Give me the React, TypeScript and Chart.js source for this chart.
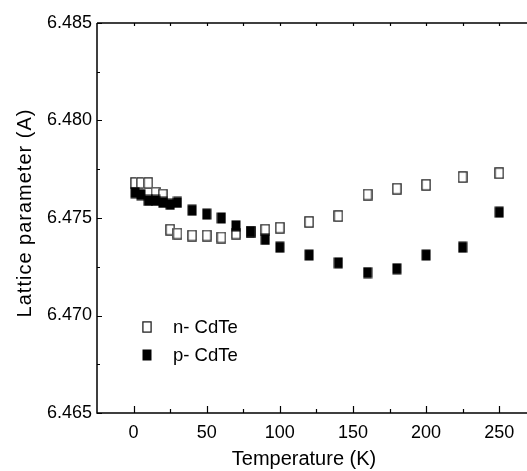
import React, { useEffect, useRef } from "react";
import { Chart, registerables } from "chart.js";

Chart.register(...registerables);

// ---- data ----
const tempN = [1, 5, 10, 15, 20, 25, 30, 40, 50, 60, 70, 80, 90, 100, 120, 140, 160, 180, 200, 225, 250];
const latticeN = [6.4768, 6.4768, 6.4768, 6.4763, 6.4762, 6.4744, 6.4742, 6.4741, 6.4741, 6.474, 6.4742, 6.4743, 6.4744, 6.4745, 6.4748, 6.4751, 6.4762, 6.4765, 6.4767, 6.4771, 6.4773];
const tempP = [1, 5, 10, 15, 20, 25, 30, 40, 50, 60, 70, 80, 90, 100, 120, 140, 160, 180, 200, 225, 250];
const latticeP = [6.4763, 6.4762, 6.4759, 6.4759, 6.4758, 6.4757, 6.4758, 6.4754, 6.4752, 6.475, 6.4746, 6.4743, 6.4739, 6.4735, 6.4731, 6.4727, 6.4722, 6.4724, 6.4731, 6.4735, 6.4753];

const seriesLabels = ["n- CdTe", "p- CdTe"];
const xTitle = "Temperature (K)";
const yTitle = "Lattice parameter (A)";

const xMajorTicks = [0, 50, 100, 150, 200, 250];
const xMinorTicks = [25, 75, 125, 175, 225];
const yMajorTicks = [6.465, 6.47, 6.475, 6.48, 6.485];
const yMinorTicks = [6.4675, 6.4725, 6.4775, 6.4825];

const FONT = '"Liberation Sans", Arial, Helvetica, sans-serif';

function makeMarker(filled: boolean): HTMLCanvasElement {
  const c = document.createElement("canvas");
  c.width = 10;
  c.height = 12;
  const g = c.getContext("2d")!;
  if (filled) {
    g.fillStyle = "#000";
    g.fillRect(0.5, 0.5, 9, 11);
  } else {
    g.fillStyle = "#fff";
    g.fillRect(0, 0, 10, 12);
    g.strokeStyle = "#222";
    g.lineWidth = 1.3;
    g.strokeRect(0.9, 0.9, 8.2, 10.2);
  }
  return c;
}

const framePlugin = {
  id: "frame",
  afterDatasetsDraw(chart: any) {
    const { ctx, chartArea } = chart;
    const { left, right, top, bottom } = chartArea;
    const xs = chart.scales.x;
    const ys = chart.scales.y;
    ctx.save();
    ctx.strokeStyle = "#000";
    ctx.lineWidth = 1.5;
    ctx.beginPath();
    ctx.moveTo(left, top);
    ctx.lineTo(right, top);
    ctx.moveTo(left, top);
    ctx.lineTo(left, bottom);
    ctx.lineTo(right, bottom);
    ctx.stroke();

    ctx.lineWidth = 1.2;
    ctx.beginPath();
    for (const v of xMajorTicks) {
      const px = Math.round(xs.getPixelForValue(v)) + 0.5;
      ctx.moveTo(px, bottom);
      ctx.lineTo(px, bottom - 7);
      ctx.moveTo(px, top);
      ctx.lineTo(px, top + 3);
    }
    for (const v of xMinorTicks) {
      const px = Math.round(xs.getPixelForValue(v)) + 0.5;
      ctx.moveTo(px, bottom);
      ctx.lineTo(px, bottom - 4);
      ctx.moveTo(px, top);
      ctx.lineTo(px, top + 3);
    }
    for (const v of yMajorTicks) {
      const py = Math.round(ys.getPixelForValue(v)) + 0.5;
      ctx.moveTo(left, py);
      ctx.lineTo(left + 5, py);
    }
    for (const v of yMinorTicks) {
      const py = Math.round(ys.getPixelForValue(v)) + 0.5;
      ctx.moveTo(left, py);
      ctx.lineTo(left + 3, py);
    }
    ctx.stroke();

    // axis titles
    ctx.fillStyle = "#000";
    ctx.font = `20px ${FONT}`;
    ctx.textAlign = "center";
    ctx.textBaseline = "alphabetic";
    ctx.fillText(xTitle, 304, 465);

    ctx.save();
    ctx.translate(25, 213);
    ctx.rotate(-Math.PI / 2);
    (ctx as any).letterSpacing = "1px";
    ctx.textBaseline = "middle";
    ctx.fillText(yTitle, 0, 0);
    ctx.restore();

    // legend
    const ds = chart.data.datasets;
    const legendY = [327, 355];
    ctx.font = `18.5px ${FONT}`;
    ctx.textAlign = "left";
    ctx.textBaseline = "middle";
    for (let i = 0; i < ds.length; i++) {
      const img = ds[i].pointStyle as HTMLCanvasElement;
      ctx.drawImage(img, 147 - img.width / 2, legendY[i] - img.height / 2);
      ctx.fillText(ds[i].label, 173, legendY[i] + 1);
    }
    ctx.restore();
  },
};

export default function App() {
  const ref = useRef<HTMLCanvasElement>(null);
  useEffect(() => {
    document.body.style.margin = "0";
    const canvas = ref.current!;
    const openMarker = makeMarker(false);
    const fillMarker = makeMarker(true);
    const chart = new Chart(canvas, {
      type: "scatter",
      data: {
        datasets: [
          {
            label: seriesLabels[0],
            data: tempN.map((t, i) => ({ x: t, y: latticeN[i] })),
            pointStyle: openMarker as any,
            showLine: false,
            order: 1,
          },
          {
            label: seriesLabels[1],
            data: tempP.map((t, i) => ({ x: t, y: latticeP[i] })),
            pointStyle: fillMarker as any,
            showLine: false,
            order: 0,
          },
        ],
      },
      options: {
        responsive: false,
        animation: false,
        layout: { autoPadding: false, padding: { top: 23, right: 0, left: 0, bottom: 0 } },
        plugins: { legend: { display: false }, tooltip: { enabled: false } },
        scales: {
          x: {
            type: "linear",
            min: -25,
            max: 269,
            grid: { display: false, drawTicks: false },
            border: { display: false },
            afterBuildTicks: (s: any) => {
              s.ticks = xMajorTicks.map((v) => ({ value: v }));
            },
            afterFit: (s: any) => {
              s.height = 58;
              s.paddingLeft = 0;
              s.paddingRight = 0;
            },
            ticks: {
              color: "#000",
              padding: 9,
              maxRotation: 0,
              font: { family: FONT, size: 18 },
              callback: (v: any) => String(v),
            },
          },
          y: {
            type: "linear",
            min: 6.465,
            max: 6.485,
            grid: { display: false, drawTicks: false },
            border: { display: false },
            afterBuildTicks: (s: any) => {
              s.ticks = yMajorTicks.map((v) => ({ value: v }));
            },
            afterFit: (s: any) => {
              s.width = 97;
              s.paddingTop = 0;
              s.paddingBottom = 0;
            },
            ticks: {
              color: "#000",
              padding: 5,
              font: { family: FONT, size: 18 },
              callback: (v: any) => Number(v).toFixed(3),
            },
          },
        },
      },
      plugins: [framePlugin],
    });
    return () => chart.destroy();
  }, []);
  return (
    <div style={{ width: 527, height: 471, background: "#fff" }}>
      <canvas ref={ref} width={527} height={471} style={{ display: "block" }} />
    </div>
  );
}
